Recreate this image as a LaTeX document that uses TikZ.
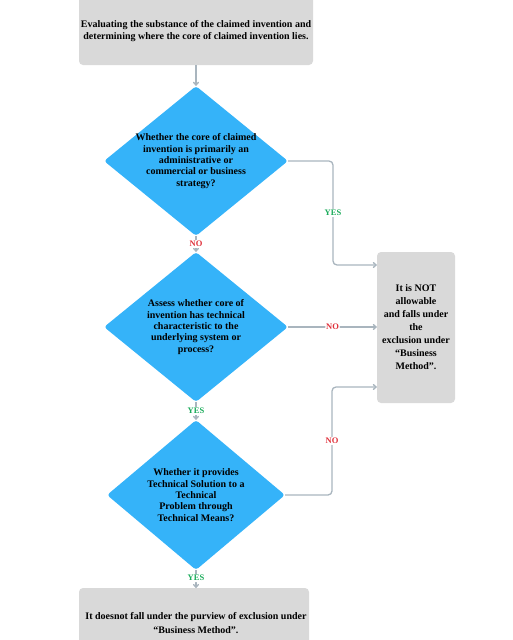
\documentclass[tikz,border=0pt]{standalone}
\usepackage{fontspec}
\setmainfont{Liberation Serif}
\usetikzlibrary{shapes.geometric,arrows.meta}
\definecolor{diablue}{HTML}{35B3F9}
\definecolor{boxgray}{HTML}{D9D9D9}
\definecolor{linegray}{HTML}{A9B5BE}
\definecolor{yesgreen}{HTML}{1AAB5A}
\definecolor{nored}{HTML}{E0303A}
\begin{document}
\begin{tikzpicture}[x=1pt,y=-1pt,
  dia/.style={shape=diamond, fill=diablue, draw=none, inner sep=0pt, aspect=1.23,
    minimum width=184pt, minimum height=150pt, rounded corners=3pt},
  dtext/.style={align=center, font=\fontsize{10}{11.4}\selectfont\bfseries, inner sep=0pt},
  gbox/.style={fill=boxgray, draw=none, rounded corners=4pt},
  btext/.style={align=center, font=\fontsize{10}{12.5}\selectfont\bfseries, inner sep=0pt},
  conn/.style={draw=linegray, line width=1.3pt, rounded corners=4pt,
    -{To[length=4pt,width=6pt]}},
  yeslab/.style={fill=white, inner sep=1pt, text=yesgreen, font=\fontsize{8.5}{9}\selectfont\bfseries},
  nolab/.style={fill=white, inner sep=1pt, text=nored, font=\fontsize{8.5}{9}\selectfont\bfseries}
]
\useasboundingbox (0,0) rectangle (512,640);
% top box
\path[gbox] (79,-6) rectangle (313,65);
\node[btext] (top) at (196,31) {Evaluating the substance of the claimed invention and\\determining where the core of claimed invention lies.};
\coordinate (topS) at (196,65);
% diamonds
\node[dia] (d1) at (196,161) {};
\node[dtext] at (d1) {Whether the core of claimed\\invention is primarily an\\administrative or\\commercial or business\\strategy?};
\node[dia] (d2) at (196,327) {};
\node[dtext] at (d2) {Assess whether core of\\invention has technical\\characteristic to the\\underlying system or\\process?};
\node[dia, minimum width=178pt] (d3) at (196,495) {};
\node[dtext] at (d3) {Whether it provides\\Technical Solution to a\\Technical\\Problem through\\Technical Means?};
% right box
\node[gbox, minimum width=78pt, minimum height=151pt, inner sep=0pt] (rb) at (416,327.5) {};
\node[btext, font=\fontsize{10}{13}\selectfont\bfseries] at (rb) {It is NOT\\allowable\\and falls under\\the\\exclusion under\\``Business\\Method''.};
% bottom box
\path[gbox] (79,588) rectangle (309,650);
\coordinate (botN) at (196,588);
\node[btext, font=\fontsize{10}{14}\selectfont\bfseries] (bot) at (196,623) {It doesnot fall under the purview of exclusion under\\``Business Method''.};
% connectors
\draw[conn] (topS) -- (d1.north);
\draw[conn] (d1.south) -- node[nolab]{NO} (d2.north);
\draw[conn] (d2.south) -- node[yeslab]{YES} (d3.north);
\draw[conn] (d3.south) -- node[yeslab, pos=0.45]{YES} (botN);
\coordinate (j1) at (333,265);
\coordinate (j3) at (332,387);
\draw[conn] (d1.east) -| node[yeslab, pos=0.75]{YES} (j1) -- (rb.west |- j1);
\draw[conn] (d2.east) -- node[nolab, pos=0.5]{NO} (rb.west |- d2.east);
\draw[conn] (d3.east) -| node[nolab, pos=0.75]{NO} (j3) -- (rb.west |- j3);
\end{tikzpicture}
\end{document}
